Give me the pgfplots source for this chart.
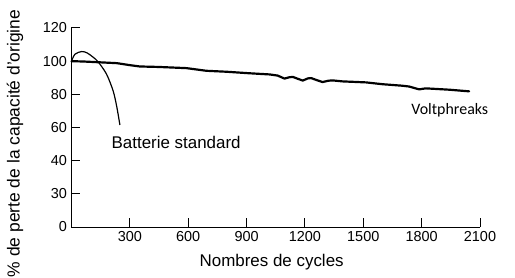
\documentclass[border=0pt]{standalone}
\usepackage{pgfplots}
\pgfplotsset{compat=1.18}
\usepackage{fontspec}
\setmainfont{Liberation Sans}
\newfontfamily\calfont{Carlito}
\pgfplotstableread{
x y
0 100
60 99.8
130 99.4
233 98.8
300 97.6
351 96.8
450 96.5
591 95.8
693 94.2
800 93.6
915 92.7
1018 92
1060 91.3
1095 89.5
1120 90.3
1138 90.5
1165 89.3
1189 88.3
1215 89.6
1232 89.8
1260 88.6
1291 87.4
1320 88.2
1342 88.4
1394 87.8
1514 87.2
1599 86.1
1700 85.2
1736 84.7
1787 83
1821 83.6
1941 82.8
2044 81.8
}\volt
\pgfplotstableread{
x y
0 100
18 104.2
52 105.8
80 105
110 102.5
137 99.6
180 92.2
214 82.1
232 73
249 61.5
}\standard
\begin{document}
\begin{tikzpicture}
\begin{axis}[
  scale only axis,
  width=408.5bp, height=199bp,
  xmin=0, xmax=2100, ymin=0, ymax=120,
  axis lines=left,
  axis line style={-, line width=1pt},
  xtick={300,600,900,1200,1500,1800,2100},
  ytick={0,20,40,60,80,100,120},
  yticklabels={0,30,40,60,80,100,120},
  tick align=inside,
  major tick length=9bp,
  tick style={line width=1pt, black},
  /pgf/number format/assume math mode=true,
  /pgf/number format/1000 sep={},
  ticklabel style={font=\fontsize{14.5}{16}\selectfont},
  xticklabel style={yshift=-1bp},
  yticklabel style={xshift=-1bp},
  xlabel={Nombres de cycles},
  xlabel style={font=\fontsize{17}{19}\selectfont, at={(axis description cs:0.49,-0.175)}, anchor=center},
  ylabel={\% de perte de la capacité d'origine},
  ylabel style={font=\fontsize{17.5}{19}\selectfont, at={(axis description cs:-0.138,0.42)}, anchor=center, rotate=0},
  clip=false,
]
\addplot[black, line width=2.2pt, line join=round, line cap=round] table[x=x,y=y]{\volt};
\addplot[black, line width=1.2pt, smooth, tension=0.5] table[x=x,y=y]{\standard};
\node[font=\fontsize{17}{19}\selectfont] at (axis cs:538,50.9) {Batterie standard};
\node[font=\calfont\fontsize{16}{18}\selectfont] at (axis cs:1945,70.2) {Voltphreaks};
\coordinate (bl) at (axis description cs:-0.175,-0.256);
\coordinate (tr) at (axis description cs:1.0857,1.1407);
\end{axis}
\pgfresetboundingbox
\path[use as bounding box] (bl) rectangle (tr);
\end{tikzpicture}
\end{document}
